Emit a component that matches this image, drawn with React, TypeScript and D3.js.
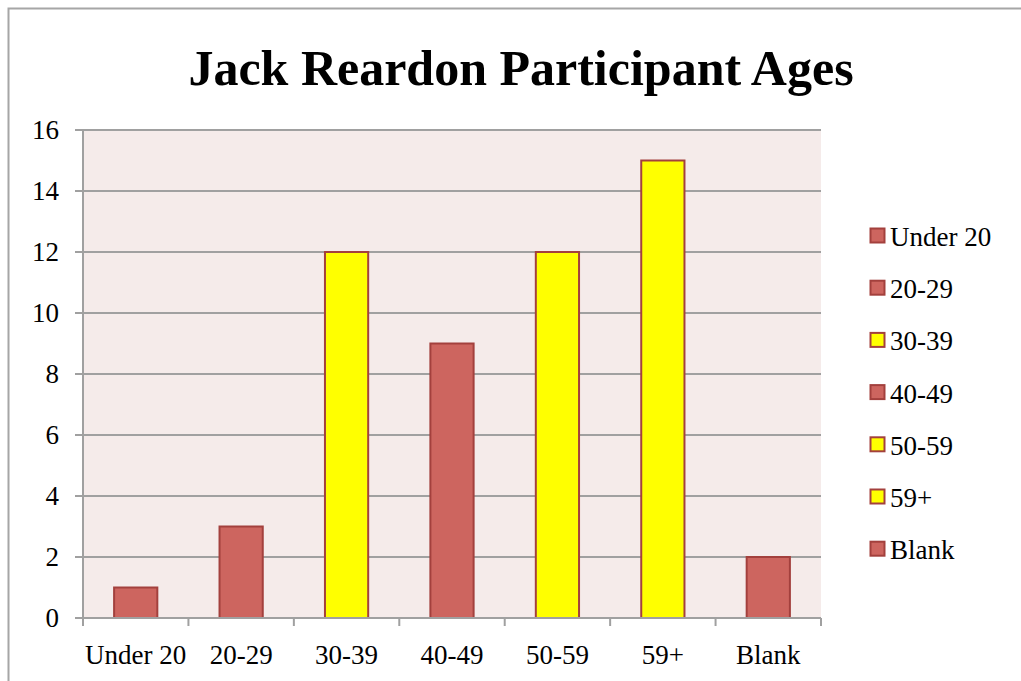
import React from "react";
import * as d3 from "d3";

// chart data
const categories = ["Under 20", "20-29", "30-39", "40-49", "50-59", "59+", "Blank"];
const counts = [1, 3, 12, 9, 12, 15, 2];
const highlighted = ["30-39", "50-59", "59+"];
const yTicks = [0, 2, 4, 6, 8, 10, 12, 14, 16];

const W = 1021;
const H = 681;
const margin = { left: 83, top: 130, right: 821, bottom: 618 };

const RED = "#cd655f";
const RED_STROKE = "#a3403d";
const YELLOW = "#ffff00";
const FONT = "'Liberation Serif', 'DejaVu Serif', serif";

const App = () => {
  const x = d3
    .scaleBand()
    .domain(categories)
    .range([margin.left, margin.right])
    .paddingInner(0.59)
    .paddingOuter(0.295);
  const xTicks = d3.scaleBand().domain(categories).range([margin.left, margin.right]);
  const y = d3.scaleLinear().domain([0, 16]).range([margin.bottom, margin.top]);

  const fillFor = (c) => (highlighted.includes(c) ? YELLOW : RED);

  return (
    <div style={{ position: "absolute", left: 0, top: 0 }}>
      <svg width={W} height={H} style={{ display: "block" }}>
        <rect x={0} y={0} width={W} height={H} fill="#ffffff" />
        <rect x={8.5} y={8.5} width={1200} height={900} fill="none" stroke="#a6a6a6" strokeWidth={2} />

        <text x={521} y={85} textAnchor="middle" fontFamily={FONT} fontWeight="bold" fontSize={50} fill="#000">
          Jack Reardon Participant Ages
        </text>

        {/* plot background */}
        <rect
          x={margin.left}
          y={margin.top}
          width={margin.right - margin.left}
          height={margin.bottom - margin.top}
          fill="#f5ebea"
        />

        {/* gridlines + y ticks */}
        {yTicks.map((t) => (
          <g key={`g-${t}`}>
            <line x1={75} x2={margin.right} y1={y(t)} y2={y(t)} stroke="#a0a0a0" strokeWidth={2} />
            <text x={59} y={y(t) + 9} textAnchor="end" fontFamily={FONT} fontSize={27} fill="#000">
              {t}
            </text>
          </g>
        ))}

        {/* y axis line */}
        <line x1={margin.left} x2={margin.left} y1={margin.top} y2={margin.bottom} stroke="#a0a0a0" strokeWidth={2} />

        {/* bars */}
        {categories.map((c, i) => (
          <rect
            key={`bar-${c}`}
            x={x(c)}
            y={y(counts[i])}
            width={x.bandwidth()}
            height={y(0) - y(counts[i])}
            fill={fillFor(c)}
            stroke={RED_STROKE}
            strokeWidth={2}
          />
        ))}

        {/* x axis line + ticks */}
        <line x1={margin.left} x2={margin.right} y1={margin.bottom} y2={margin.bottom} stroke="#a0a0a0" strokeWidth={2} />
        {[...categories.map((c) => xTicks(c)), margin.right].map((tx, i) => (
          <line key={`xt-${i}`} x1={tx} x2={tx} y1={margin.bottom} y2={margin.bottom + 8} stroke="#a0a0a0" strokeWidth={2} />
        ))}
        {categories.map((c) => (
          <text
            key={`xl-${c}`}
            x={xTicks(c) + xTicks.bandwidth() / 2}
            y={664}
            textAnchor="middle"
            fontFamily={FONT}
            fontSize={27}
            fill="#000"
          >
            {c}
          </text>
        ))}

        {/* legend */}
        {categories.map((c, i) => (
          <g key={`lg-${c}`} transform={`translate(870, ${228 + i * 52.2})`}>
            <rect x={0.5} y={0.5} width={14} height={14} fill={fillFor(c)} stroke={RED_STROKE} strokeWidth={2} />
            <text x={20} y={18} fontFamily={FONT} fontSize={27} fill="#000">
              {c}
            </text>
          </g>
        ))}
      </svg>
    </div>
  );
};

export default App;
